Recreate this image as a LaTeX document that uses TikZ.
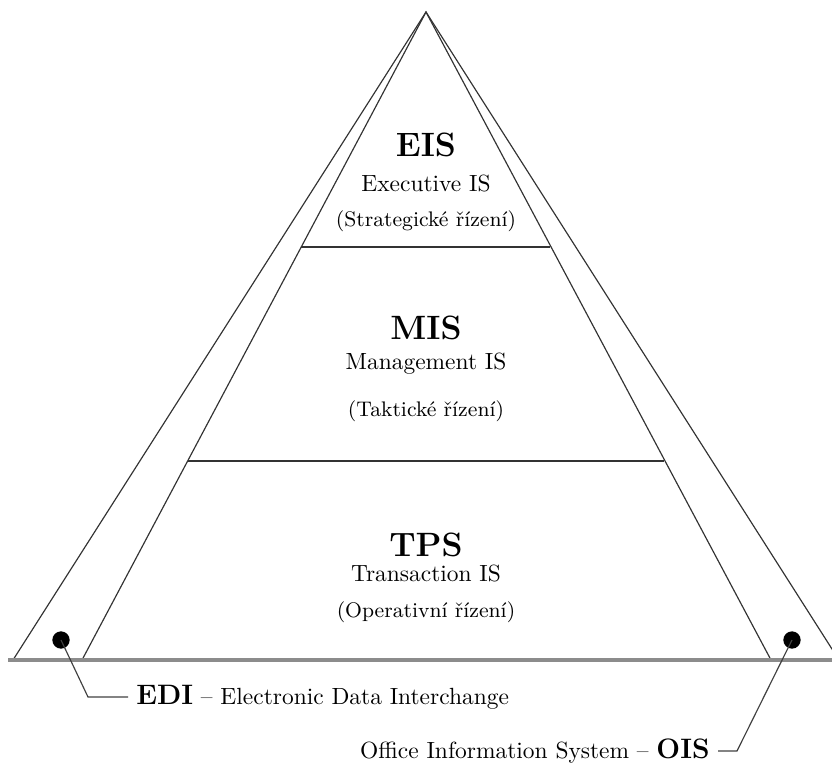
\documentclass[tikz,border=0pt]{standalone}
\usepackage{fontspec}
\begin{document}
\begin{tikzpicture}
[x=0.15mm, y=-0.15mm, line width=.5pt,
 level/.style={font=\Large\bfseries},
 sub/.style={font=\normalsize},
 note/.style={font=\small},
 dot/.style={circle, fill=black, inner sep=0pt, minimum size=2.6mm},
 wire/.style={draw=black!75, line width=.5pt}]

\clip (0,0) rectangle (832,762);
%________________________________________________%
\coordinate (apex) at (426,12);
\coordinate (outerL) at (13,660);
\coordinate (outerR) at (839,660);
\coordinate (innerL) at (82,660);
\coordinate (innerR) at (771,660);
\draw[black!80] (outerL) -- (apex) -- (outerR);
\draw[black!80] (innerL) -- (apex) -- (innerR);
\draw[black!45, line width=1.3pt] (8,660) -- (832,660);
%________________________________________________%
\draw[black!80] (301,247) -- (550,247);
\draw[black!80] (188,461) -- (664,461);
%________________________________________________%
\node[level] (eis) at (426,145) {EIS};
\node[sub] (eisname) at (426,183) {Executive IS};
\node[note] (eisnote) at (426,221) {(Strategické řízení)};
%________________________________________________%
\node[level] (mis) at (426,328) {MIS};
\node[sub] (misname) at (426,364) {Management IS};
\node[note] (misnote) at (426,411) {(Taktické řízení)};
%________________________________________________%
\node[level] (tps) at (426,545) {TPS};
\node[sub] (tpsname) at (426,573) {Transaction IS};
\node[note] (tpsnote) at (426,612) {(Operativní řízení)};
%________________________________________________%
\node[dot] (edidot) at (61,640) {};
\coordinate (edibend) at (88,697);
\node[anchor=west] (edi) at (128,697) {{\large\bfseries EDI} -- Electronic Data Interchange};
\draw[wire] (edidot.center) -- (edibend) -- (edi.west);
%________________________________________________%
\node[dot] (oisdot) at (792,640) {};
\coordinate (oisbend) at (737,751);
\node[anchor=east] (ois) at (718,751) {Office Information System -- {\large\bfseries OIS}};
\draw[wire] (oisdot.center) -- (oisbend) -- (ois.east);
%________________________________________________%
\end{tikzpicture}
\end{document}
